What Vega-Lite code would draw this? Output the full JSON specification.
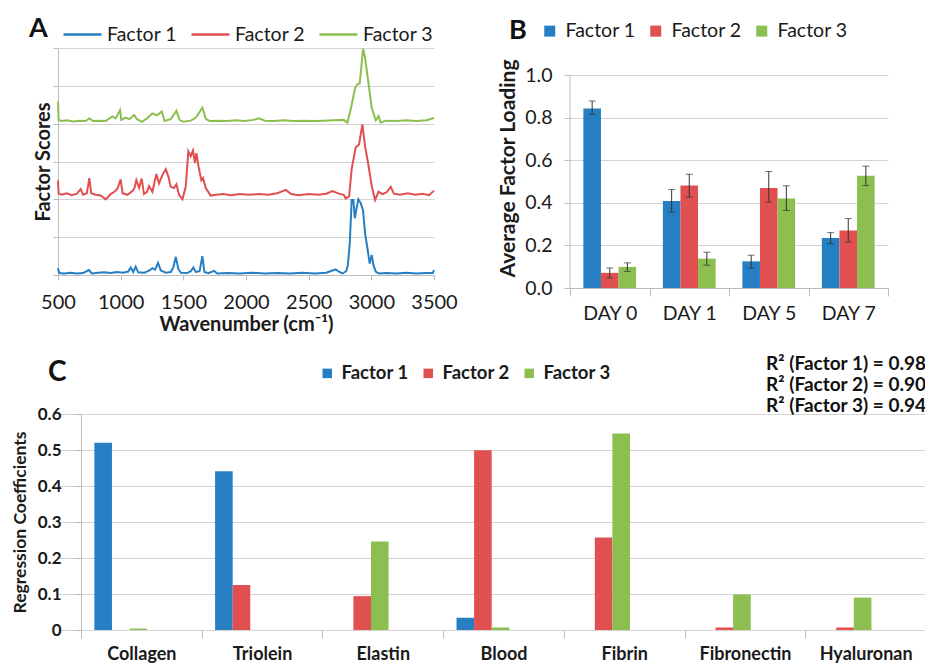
{
  "$schema": "https://vega.github.io/schema/vega-lite/v6.json",
  "background": "white",
  "padding": {"left": 11, "top": 14, "right": 0, "bottom": 0},
  "autosize": {"type": "pad"},
  "columns": 2,
  "spacing": {"column": -356, "row": 126},
  "align": "none",
  "bounds": "flush",
  "resolve": {"scale": {"color": "independent"}, "legend": {"color": "independent"}},
  "config": {
    "font": "Lato",
    "view": {"stroke": null},
    "axis": {"gridColor": "#d4d4d4", "domainColor": "#bcbcbc", "tickColor": "#bcbcbc", "labelColor": "#1a1a1a", "titleColor": "#1a1a1a", "labelFont": "Lato", "titleFont": "Lato"},
    "legend": {"padding": 0, "labelColor": "#1a1a1a", "titleColor": "#111111", "labelFont": "Lato", "titleFont": "Lato"},
    "title": {"font": "Lato", "color": "#111111"}
  },
  "datasets": {
    "spectra": [
      {"factor": "Factor 1", "wavenumber": 500, "score": 0.18},
      {"factor": "Factor 1", "wavenumber": 510, "score": 0.05},
      {"factor": "Factor 1", "wavenumber": 550, "score": 0.04},
      {"factor": "Factor 1", "wavenumber": 600, "score": 0.06},
      {"factor": "Factor 1", "wavenumber": 650, "score": 0.04},
      {"factor": "Factor 1", "wavenumber": 700, "score": 0.05},
      {"factor": "Factor 1", "wavenumber": 747, "score": 0.13},
      {"factor": "Factor 1", "wavenumber": 770, "score": 0.04},
      {"factor": "Factor 1", "wavenumber": 820, "score": 0.06},
      {"factor": "Factor 1", "wavenumber": 870, "score": 0.07},
      {"factor": "Factor 1", "wavenumber": 920, "score": 0.05},
      {"factor": "Factor 1", "wavenumber": 970, "score": 0.08},
      {"factor": "Factor 1", "wavenumber": 1020, "score": 0.06},
      {"factor": "Factor 1", "wavenumber": 1060, "score": 0.09},
      {"factor": "Factor 1", "wavenumber": 1080, "score": 0.20},
      {"factor": "Factor 1", "wavenumber": 1100, "score": 0.08},
      {"factor": "Factor 1", "wavenumber": 1120, "score": 0.22},
      {"factor": "Factor 1", "wavenumber": 1140, "score": 0.07},
      {"factor": "Factor 1", "wavenumber": 1190, "score": 0.06},
      {"factor": "Factor 1", "wavenumber": 1230, "score": 0.12},
      {"factor": "Factor 1", "wavenumber": 1253, "score": 0.18},
      {"factor": "Factor 1", "wavenumber": 1275, "score": 0.14},
      {"factor": "Factor 1", "wavenumber": 1298, "score": 0.32},
      {"factor": "Factor 1", "wavenumber": 1320, "score": 0.12},
      {"factor": "Factor 1", "wavenumber": 1360, "score": 0.06},
      {"factor": "Factor 1", "wavenumber": 1400, "score": 0.08},
      {"factor": "Factor 1", "wavenumber": 1420, "score": 0.20},
      {"factor": "Factor 1", "wavenumber": 1440, "score": 0.48},
      {"factor": "Factor 1", "wavenumber": 1460, "score": 0.16},
      {"factor": "Factor 1", "wavenumber": 1480, "score": 0.06},
      {"factor": "Factor 1", "wavenumber": 1530, "score": 0.05},
      {"factor": "Factor 1", "wavenumber": 1560, "score": 0.10},
      {"factor": "Factor 1", "wavenumber": 1580, "score": 0.20},
      {"factor": "Factor 1", "wavenumber": 1600, "score": 0.08},
      {"factor": "Factor 1", "wavenumber": 1630, "score": 0.10},
      {"factor": "Factor 1", "wavenumber": 1652, "score": 0.50},
      {"factor": "Factor 1", "wavenumber": 1668, "score": 0.08},
      {"factor": "Factor 1", "wavenumber": 1700, "score": 0.05},
      {"factor": "Factor 1", "wavenumber": 1745, "score": 0.11},
      {"factor": "Factor 1", "wavenumber": 1770, "score": 0.04},
      {"factor": "Factor 1", "wavenumber": 1850, "score": 0.05},
      {"factor": "Factor 1", "wavenumber": 1950, "score": 0.04},
      {"factor": "Factor 1", "wavenumber": 2050, "score": 0.06},
      {"factor": "Factor 1", "wavenumber": 2150, "score": 0.04},
      {"factor": "Factor 1", "wavenumber": 2250, "score": 0.05},
      {"factor": "Factor 1", "wavenumber": 2350, "score": 0.04},
      {"factor": "Factor 1", "wavenumber": 2450, "score": 0.06},
      {"factor": "Factor 1", "wavenumber": 2550, "score": 0.04},
      {"factor": "Factor 1", "wavenumber": 2640, "score": 0.06},
      {"factor": "Factor 1", "wavenumber": 2690, "score": 0.12},
      {"factor": "Factor 1", "wavenumber": 2716, "score": 0.15},
      {"factor": "Factor 1", "wavenumber": 2745, "score": 0.08},
      {"factor": "Factor 1", "wavenumber": 2770, "score": 0.04},
      {"factor": "Factor 1", "wavenumber": 2800, "score": 0.10},
      {"factor": "Factor 1", "wavenumber": 2812, "score": 0.25},
      {"factor": "Factor 1", "wavenumber": 2828, "score": 0.83},
      {"factor": "Factor 1", "wavenumber": 2843, "score": 1.98},
      {"factor": "Factor 1", "wavenumber": 2857, "score": 1.98},
      {"factor": "Factor 1", "wavenumber": 2868, "score": 1.50},
      {"factor": "Factor 1", "wavenumber": 2884, "score": 1.80},
      {"factor": "Factor 1", "wavenumber": 2897, "score": 2.00},
      {"factor": "Factor 1", "wavenumber": 2916, "score": 1.90},
      {"factor": "Factor 1", "wavenumber": 2934, "score": 1.70},
      {"factor": "Factor 1", "wavenumber": 2950, "score": 1.10},
      {"factor": "Factor 1", "wavenumber": 2969, "score": 0.70},
      {"factor": "Factor 1", "wavenumber": 2987, "score": 0.30},
      {"factor": "Factor 1", "wavenumber": 3003, "score": 0.53},
      {"factor": "Factor 1", "wavenumber": 3017, "score": 0.26},
      {"factor": "Factor 1", "wavenumber": 3035, "score": 0.09},
      {"factor": "Factor 1", "wavenumber": 3060, "score": 0.04},
      {"factor": "Factor 1", "wavenumber": 3120, "score": 0.05},
      {"factor": "Factor 1", "wavenumber": 3200, "score": 0.04},
      {"factor": "Factor 1", "wavenumber": 3280, "score": 0.06},
      {"factor": "Factor 1", "wavenumber": 3360, "score": 0.04},
      {"factor": "Factor 1", "wavenumber": 3440, "score": 0.05},
      {"factor": "Factor 1", "wavenumber": 3490, "score": 0.05},
      {"factor": "Factor 1", "wavenumber": 3500, "score": 0.13},
      {"factor": "Factor 2", "wavenumber": 500, "score": 2.50},
      {"factor": "Factor 2", "wavenumber": 505, "score": 2.15},
      {"factor": "Factor 2", "wavenumber": 530, "score": 2.12},
      {"factor": "Factor 2", "wavenumber": 570, "score": 2.16},
      {"factor": "Factor 2", "wavenumber": 610, "score": 2.11},
      {"factor": "Factor 2", "wavenumber": 650, "score": 2.15},
      {"factor": "Factor 2", "wavenumber": 681, "score": 2.27},
      {"factor": "Factor 2", "wavenumber": 700, "score": 2.12},
      {"factor": "Factor 2", "wavenumber": 730, "score": 2.16},
      {"factor": "Factor 2", "wavenumber": 750, "score": 2.56},
      {"factor": "Factor 2", "wavenumber": 765, "score": 2.16},
      {"factor": "Factor 2", "wavenumber": 800, "score": 2.12},
      {"factor": "Factor 2", "wavenumber": 840, "score": 2.10},
      {"factor": "Factor 2", "wavenumber": 881, "score": 2.00},
      {"factor": "Factor 2", "wavenumber": 920, "score": 2.14},
      {"factor": "Factor 2", "wavenumber": 950, "score": 2.20},
      {"factor": "Factor 2", "wavenumber": 974, "score": 2.28},
      {"factor": "Factor 2", "wavenumber": 1000, "score": 2.53},
      {"factor": "Factor 2", "wavenumber": 1015, "score": 2.16},
      {"factor": "Factor 2", "wavenumber": 1054, "score": 2.12},
      {"factor": "Factor 2", "wavenumber": 1094, "score": 2.22},
      {"factor": "Factor 2", "wavenumber": 1110, "score": 2.30},
      {"factor": "Factor 2", "wavenumber": 1125, "score": 2.51},
      {"factor": "Factor 2", "wavenumber": 1147, "score": 2.30},
      {"factor": "Factor 2", "wavenumber": 1168, "score": 2.55},
      {"factor": "Factor 2", "wavenumber": 1186, "score": 2.14},
      {"factor": "Factor 2", "wavenumber": 1210, "score": 2.20},
      {"factor": "Factor 2", "wavenumber": 1226, "score": 2.35},
      {"factor": "Factor 2", "wavenumber": 1253, "score": 2.20},
      {"factor": "Factor 2", "wavenumber": 1285, "score": 2.67},
      {"factor": "Factor 2", "wavenumber": 1306, "score": 2.42},
      {"factor": "Factor 2", "wavenumber": 1333, "score": 2.64},
      {"factor": "Factor 2", "wavenumber": 1360, "score": 2.80},
      {"factor": "Factor 2", "wavenumber": 1381, "score": 2.60},
      {"factor": "Factor 2", "wavenumber": 1399, "score": 2.33},
      {"factor": "Factor 2", "wavenumber": 1426, "score": 2.30},
      {"factor": "Factor 2", "wavenumber": 1445, "score": 2.40},
      {"factor": "Factor 2", "wavenumber": 1466, "score": 2.12},
      {"factor": "Factor 2", "wavenumber": 1493, "score": 2.00},
      {"factor": "Factor 2", "wavenumber": 1519, "score": 2.33},
      {"factor": "Factor 2", "wavenumber": 1540, "score": 3.27},
      {"factor": "Factor 2", "wavenumber": 1559, "score": 3.14},
      {"factor": "Factor 2", "wavenumber": 1577, "score": 3.29},
      {"factor": "Factor 2", "wavenumber": 1593, "score": 2.96},
      {"factor": "Factor 2", "wavenumber": 1604, "score": 3.22},
      {"factor": "Factor 2", "wavenumber": 1625, "score": 2.80},
      {"factor": "Factor 2", "wavenumber": 1644, "score": 2.50},
      {"factor": "Factor 2", "wavenumber": 1657, "score": 2.56},
      {"factor": "Factor 2", "wavenumber": 1679, "score": 2.30},
      {"factor": "Factor 2", "wavenumber": 1718, "score": 2.10},
      {"factor": "Factor 2", "wavenumber": 1760, "score": 2.12},
      {"factor": "Factor 2", "wavenumber": 1820, "score": 2.14},
      {"factor": "Factor 2", "wavenumber": 1880, "score": 2.11},
      {"factor": "Factor 2", "wavenumber": 1950, "score": 2.14},
      {"factor": "Factor 2", "wavenumber": 2020, "score": 2.12},
      {"factor": "Factor 2", "wavenumber": 2100, "score": 2.14},
      {"factor": "Factor 2", "wavenumber": 2180, "score": 2.12},
      {"factor": "Factor 2", "wavenumber": 2250, "score": 2.16},
      {"factor": "Factor 2", "wavenumber": 2317, "score": 2.25},
      {"factor": "Factor 2", "wavenumber": 2360, "score": 2.14},
      {"factor": "Factor 2", "wavenumber": 2420, "score": 2.11},
      {"factor": "Factor 2", "wavenumber": 2500, "score": 2.14},
      {"factor": "Factor 2", "wavenumber": 2580, "score": 2.12},
      {"factor": "Factor 2", "wavenumber": 2640, "score": 2.15},
      {"factor": "Factor 2", "wavenumber": 2690, "score": 2.22},
      {"factor": "Factor 2", "wavenumber": 2740, "score": 2.15},
      {"factor": "Factor 2", "wavenumber": 2780, "score": 2.12},
      {"factor": "Factor 2", "wavenumber": 2796, "score": 2.02},
      {"factor": "Factor 2", "wavenumber": 2823, "score": 2.08},
      {"factor": "Factor 2", "wavenumber": 2843, "score": 2.80},
      {"factor": "Factor 2", "wavenumber": 2875, "score": 3.37},
      {"factor": "Factor 2", "wavenumber": 2902, "score": 3.45},
      {"factor": "Factor 2", "wavenumber": 2929, "score": 3.98},
      {"factor": "Factor 2", "wavenumber": 2950, "score": 3.40},
      {"factor": "Factor 2", "wavenumber": 2977, "score": 2.90},
      {"factor": "Factor 2", "wavenumber": 3003, "score": 2.35},
      {"factor": "Factor 2", "wavenumber": 3030, "score": 1.98},
      {"factor": "Factor 2", "wavenumber": 3057, "score": 2.20},
      {"factor": "Factor 2", "wavenumber": 3090, "score": 2.14},
      {"factor": "Factor 2", "wavenumber": 3120, "score": 2.18},
      {"factor": "Factor 2", "wavenumber": 3155, "score": 2.33},
      {"factor": "Factor 2", "wavenumber": 3180, "score": 2.15},
      {"factor": "Factor 2", "wavenumber": 3230, "score": 2.12},
      {"factor": "Factor 2", "wavenumber": 3290, "score": 2.16},
      {"factor": "Factor 2", "wavenumber": 3350, "score": 2.12},
      {"factor": "Factor 2", "wavenumber": 3410, "score": 2.15},
      {"factor": "Factor 2", "wavenumber": 3460, "score": 2.11},
      {"factor": "Factor 2", "wavenumber": 3500, "score": 2.23},
      {"factor": "Factor 3", "wavenumber": 500, "score": 4.58},
      {"factor": "Factor 3", "wavenumber": 505, "score": 4.10},
      {"factor": "Factor 3", "wavenumber": 530, "score": 4.07},
      {"factor": "Factor 3", "wavenumber": 570, "score": 4.09},
      {"factor": "Factor 3", "wavenumber": 620, "score": 4.06},
      {"factor": "Factor 3", "wavenumber": 670, "score": 4.08},
      {"factor": "Factor 3", "wavenumber": 720, "score": 4.07},
      {"factor": "Factor 3", "wavenumber": 750, "score": 4.14},
      {"factor": "Factor 3", "wavenumber": 780, "score": 4.07},
      {"factor": "Factor 3", "wavenumber": 830, "score": 4.08},
      {"factor": "Factor 3", "wavenumber": 880, "score": 4.07},
      {"factor": "Factor 3", "wavenumber": 934, "score": 4.19},
      {"factor": "Factor 3", "wavenumber": 960, "score": 4.14},
      {"factor": "Factor 3", "wavenumber": 995, "score": 4.36},
      {"factor": "Factor 3", "wavenumber": 1005, "score": 4.10},
      {"factor": "Factor 3", "wavenumber": 1040, "score": 4.16},
      {"factor": "Factor 3", "wavenumber": 1070, "score": 4.12},
      {"factor": "Factor 3", "wavenumber": 1107, "score": 4.23},
      {"factor": "Factor 3", "wavenumber": 1130, "score": 4.12},
      {"factor": "Factor 3", "wavenumber": 1170, "score": 4.05},
      {"factor": "Factor 3", "wavenumber": 1210, "score": 4.14},
      {"factor": "Factor 3", "wavenumber": 1253, "score": 4.27},
      {"factor": "Factor 3", "wavenumber": 1290, "score": 4.22},
      {"factor": "Factor 3", "wavenumber": 1328, "score": 4.32},
      {"factor": "Factor 3", "wavenumber": 1350, "score": 4.07},
      {"factor": "Factor 3", "wavenumber": 1400, "score": 4.12},
      {"factor": "Factor 3", "wavenumber": 1445, "score": 4.34},
      {"factor": "Factor 3", "wavenumber": 1470, "score": 4.10},
      {"factor": "Factor 3", "wavenumber": 1500, "score": 4.05},
      {"factor": "Factor 3", "wavenumber": 1560, "score": 4.08},
      {"factor": "Factor 3", "wavenumber": 1600, "score": 4.16},
      {"factor": "Factor 3", "wavenumber": 1652, "score": 4.42},
      {"factor": "Factor 3", "wavenumber": 1680, "score": 4.12},
      {"factor": "Factor 3", "wavenumber": 1710, "score": 4.07},
      {"factor": "Factor 3", "wavenumber": 1780, "score": 4.08},
      {"factor": "Factor 3", "wavenumber": 1850, "score": 4.07},
      {"factor": "Factor 3", "wavenumber": 1920, "score": 4.09},
      {"factor": "Factor 3", "wavenumber": 1990, "score": 4.07},
      {"factor": "Factor 3", "wavenumber": 2060, "score": 4.10},
      {"factor": "Factor 3", "wavenumber": 2104, "score": 4.14},
      {"factor": "Factor 3", "wavenumber": 2150, "score": 4.08},
      {"factor": "Factor 3", "wavenumber": 2220, "score": 4.07},
      {"factor": "Factor 3", "wavenumber": 2300, "score": 4.09},
      {"factor": "Factor 3", "wavenumber": 2380, "score": 4.07},
      {"factor": "Factor 3", "wavenumber": 2460, "score": 4.08},
      {"factor": "Factor 3", "wavenumber": 2540, "score": 4.07},
      {"factor": "Factor 3", "wavenumber": 2620, "score": 4.08},
      {"factor": "Factor 3", "wavenumber": 2700, "score": 4.09},
      {"factor": "Factor 3", "wavenumber": 2780, "score": 4.10},
      {"factor": "Factor 3", "wavenumber": 2809, "score": 4.03},
      {"factor": "Factor 3", "wavenumber": 2836, "score": 4.38},
      {"factor": "Factor 3", "wavenumber": 2871, "score": 4.95},
      {"factor": "Factor 3", "wavenumber": 2889, "score": 5.04},
      {"factor": "Factor 3", "wavenumber": 2907, "score": 5.06},
      {"factor": "Factor 3", "wavenumber": 2934, "score": 5.98},
      {"factor": "Factor 3", "wavenumber": 2950, "score": 5.74},
      {"factor": "Factor 3", "wavenumber": 2977, "score": 5.08},
      {"factor": "Factor 3", "wavenumber": 3003, "score": 4.42},
      {"factor": "Factor 3", "wavenumber": 3035, "score": 4.09},
      {"factor": "Factor 3", "wavenumber": 3057, "score": 4.20},
      {"factor": "Factor 3", "wavenumber": 3075, "score": 4.03},
      {"factor": "Factor 3", "wavenumber": 3120, "score": 4.08},
      {"factor": "Factor 3", "wavenumber": 3200, "score": 4.07},
      {"factor": "Factor 3", "wavenumber": 3280, "score": 4.09},
      {"factor": "Factor 3", "wavenumber": 3360, "score": 4.07},
      {"factor": "Factor 3", "wavenumber": 3440, "score": 4.09},
      {"factor": "Factor 3", "wavenumber": 3500, "score": 4.15}
    ],
    "loadings": [
      {"day": "DAY 0", "factor": "Factor 1", "value": 0.843, "lo": 0.815, "hi": 0.878},
      {"day": "DAY 0", "factor": "Factor 2", "value": 0.071, "lo": 0.047, "hi": 0.094},
      {"day": "DAY 0", "factor": "Factor 3", "value": 0.099, "lo": 0.078, "hi": 0.118},
      {"day": "DAY 1", "factor": "Factor 1", "value": 0.408, "lo": 0.357, "hi": 0.462},
      {"day": "DAY 1", "factor": "Factor 2", "value": 0.481, "lo": 0.426, "hi": 0.534},
      {"day": "DAY 1", "factor": "Factor 3", "value": 0.138, "lo": 0.107, "hi": 0.168},
      {"day": "DAY 5", "factor": "Factor 1", "value": 0.125, "lo": 0.094, "hi": 0.154},
      {"day": "DAY 5", "factor": "Factor 2", "value": 0.470, "lo": 0.403, "hi": 0.547},
      {"day": "DAY 5", "factor": "Factor 3", "value": 0.420, "lo": 0.364, "hi": 0.480},
      {"day": "DAY 7", "factor": "Factor 1", "value": 0.235, "lo": 0.208, "hi": 0.260},
      {"day": "DAY 7", "factor": "Factor 2", "value": 0.270, "lo": 0.216, "hi": 0.326},
      {"day": "DAY 7", "factor": "Factor 3", "value": 0.527, "lo": 0.481, "hi": 0.572}
    ],
    "regression": [
      {"component": "Collagen", "factor": "Factor 1", "coef": 0.520},
      {"component": "Collagen", "factor": "Factor 2", "coef": 0.0},
      {"component": "Collagen", "factor": "Factor 3", "coef": 0.004},
      {"component": "Triolein", "factor": "Factor 1", "coef": 0.441},
      {"component": "Triolein", "factor": "Factor 2", "coef": 0.125},
      {"component": "Triolein", "factor": "Factor 3", "coef": 0.0},
      {"component": "Elastin", "factor": "Factor 1", "coef": 0.0},
      {"component": "Elastin", "factor": "Factor 2", "coef": 0.094},
      {"component": "Elastin", "factor": "Factor 3", "coef": 0.246},
      {"component": "Blood", "factor": "Factor 1", "coef": 0.034},
      {"component": "Blood", "factor": "Factor 2", "coef": 0.499},
      {"component": "Blood", "factor": "Factor 3", "coef": 0.007},
      {"component": "Fibrin", "factor": "Factor 1", "coef": 0.0},
      {"component": "Fibrin", "factor": "Factor 2", "coef": 0.257},
      {"component": "Fibrin", "factor": "Factor 3", "coef": 0.546},
      {"component": "Fibronectin", "factor": "Factor 1", "coef": 0.0},
      {"component": "Fibronectin", "factor": "Factor 2", "coef": 0.007},
      {"component": "Fibronectin", "factor": "Factor 3", "coef": 0.099},
      {"component": "Hyaluronan", "factor": "Factor 1", "coef": 0.0},
      {"component": "Hyaluronan", "factor": "Factor 2", "coef": 0.007},
      {"component": "Hyaluronan", "factor": "Factor 3", "coef": 0.090}
    ]
  },
  "concat": [
    {
      "width": 376,
      "height": 227,
      "data": {"name": "spectra"},
      "mark": {"type": "line", "strokeWidth": 2},
      "encoding": {
        "x": {"field": "wavenumber", "type": "quantitative",
          "scale": {"domain": [500, 3500], "nice": false, "zero": false},
          "axis": {"values": [500, 1000, 1500, 2000, 2500, 3000, 3500], "format": "d", "grid": false, "title": "Wavenumber (cm⁻¹)", "labelFontSize": 20, "titleFontSize": 20, "titleFontWeight": "bold", "tickSize": 5, "labelPadding": 12, "titlePadding": 2, "labelFlush": false}},
        "y": {"field": "score", "type": "quantitative",
          "scale": {"domain": [0, 6], "nice": false},
          "axis": {"values": [0, 1, 2, 3, 4, 5, 6], "labels": false, "grid": true, "tickSize": 5, "title": "Factor Scores", "titleFontSize": 20, "titleFontWeight": "bold", "titlePadding": -1}},
        "color": {"field": "factor", "type": "nominal",
          "scale": {"domain": ["Factor 1", "Factor 2", "Factor 3"], "range": ["#267fc2", "#e05050", "#8cbe50"]},
          "legend": {"orient": "none", "legendX": -29, "legendY": -34, "direction": "horizontal", "title": "A", "titleOrient": "left", "titleFontSize": 27, "titleFontWeight": "bold", "titlePadding": 14, "symbolType": "stroke", "symbolSize": 1444, "symbolStrokeWidth": 2.5, "labelFontSize": 19.5, "labelOffset": 4, "columnPadding": 8}}
      }
    },
    {
      "width": 318,
      "height": 240,
      "data": {"name": "loadings"},
      "layer": [
        {
          "mark": {"type": "bar"},
          "encoding": {
            "x": {"field": "day", "type": "nominal", "sort": null,
              "scale": {"paddingInner": 0, "paddingOuter": 0},
              "axis": {"title": null, "labelAngle": 0, "labelFontSize": 19.5, "tickBand": "extent", "tickSize": 8, "labelPadding": 8, "grid": false}},
            "xOffset": {"field": "factor", "type": "nominal", "scale": {"paddingOuter": 0.76, "paddingInner": 0}},
            "y": {"field": "value", "type": "quantitative",
              "scale": {"domain": [0, 1.1268], "nice": false},
              "axis": {"values": [0, 0.2, 0.4, 0.6, 0.8, 1.0], "format": ".1f", "title": "Average Factor Loading", "titleFontSize": 21, "titleFontWeight": "bold", "labelFontSize": 19.5, "tickSize": 6, "labelPadding": 12, "titlePadding": 6, "domain": false, "grid": true}},
            "color": {"field": "factor", "type": "nominal",
              "scale": {"domain": ["Factor 1", "Factor 2", "Factor 3"], "range": ["#267fc2", "#e05050", "#8cbe50"]},
              "legend": {"orient": "none", "legendX": -61, "legendY": -27, "direction": "horizontal", "title": "B", "titleOrient": "left", "titleFontSize": 27, "titleFontWeight": "bold", "titlePadding": 13, "symbolType": "square", "symbolSize": 121, "symbolStrokeWidth": 0, "labelFontSize": 19.5, "labelOffset": 6, "columnPadding": 10}}
          }
        },
        {
          "mark": {"type": "rule", "color": "#333333", "strokeWidth": 1},
          "encoding": {
            "x": {"field": "day", "type": "nominal", "sort": null},
            "xOffset": {"field": "factor", "type": "nominal"},
            "y": {"field": "lo", "type": "quantitative"},
            "y2": {"field": "hi"}
          }
        },
        {
          "mark": {"type": "tick", "color": "#333333", "size": 7, "thickness": 1},
          "encoding": {
            "x": {"field": "day", "type": "nominal", "sort": null},
            "xOffset": {"field": "factor", "type": "nominal"},
            "y": {"field": "lo", "type": "quantitative"}
          }
        },
        {
          "mark": {"type": "tick", "color": "#333333", "size": 7, "thickness": 1},
          "encoding": {
            "x": {"field": "day", "type": "nominal", "sort": null},
            "xOffset": {"field": "factor", "type": "nominal"},
            "y": {"field": "hi", "type": "quantitative"}
          }
        },
        {
          "data": {"values": [{}]},
          "mark": {"type": "rule", "color": "#bcbcbc", "strokeWidth": 1},
          "encoding": {
            "x": {"datum": "DAY 0", "bandPosition": 0},
            "y": {"datum": 0},
            "y2": {"datum": 1}
          }
        }
      ]
    },
    {
      "width": 868,
      "height": 216,
      "data": {"name": "regression"},
      "title": {"text": ["R² (Factor 1) = 0.98", "R² (Factor 2) = 0.90", "R² (Factor 3) = 0.94"], "anchor": "end", "frame": "group", "fontSize": 19, "fontWeight": "bold", "lineHeight": 21, "offset": -52},
      "mark": {"type": "bar"},
      "encoding": {
        "x": {"field": "component", "type": "nominal", "sort": null,
          "scale": {"paddingInner": 0, "paddingOuter": 0.0953, "align": 1},
          "axis": {"title": null, "labelAngle": 0, "labelFontSize": 18, "labelFontWeight": "bold", "tickBand": "extent", "tickSize": 8, "domain": false, "labelPadding": 7, "grid": false}},
        "xOffset": {"field": "factor", "type": "nominal", "scale": {"paddingOuter": 0.735, "paddingInner": 0}},
        "y": {"field": "coef", "type": "quantitative",
          "scale": {"domain": [0, 0.6], "nice": false},
          "axis": {"values": [0, 0.1, 0.2, 0.3, 0.4, 0.5, 0.6], "labelExpr": "datum.value == 0 ? '0' : format(datum.value, '.1f')", "offset": -23, "title": "Regression Coefficients", "titleFontSize": 17.5, "titleFontWeight": "bold", "labelFontSize": 17, "labelFontWeight": "bold", "tickSize": 7, "labelPadding": 13, "titlePadding": 8, "grid": true}},
        "color": {"field": "factor", "type": "nominal",
          "scale": {"domain": ["Factor 1", "Factor 2", "Factor 3"], "range": ["#267fc2", "#e05050", "#8cbe50"]},
          "legend": {"orient": "none", "legendX": -10, "legendY": -50, "direction": "horizontal", "title": "C", "titleOrient": "left", "titleFontSize": 28, "titleFontWeight": "bold", "titlePadding": 251, "symbolType": "square", "symbolSize": 90, "symbolStrokeWidth": 0, "labelFontSize": 18.5, "labelFontWeight": "bold", "labelOffset": 5, "columnPadding": 10}}
      }
    }
  ]
}
